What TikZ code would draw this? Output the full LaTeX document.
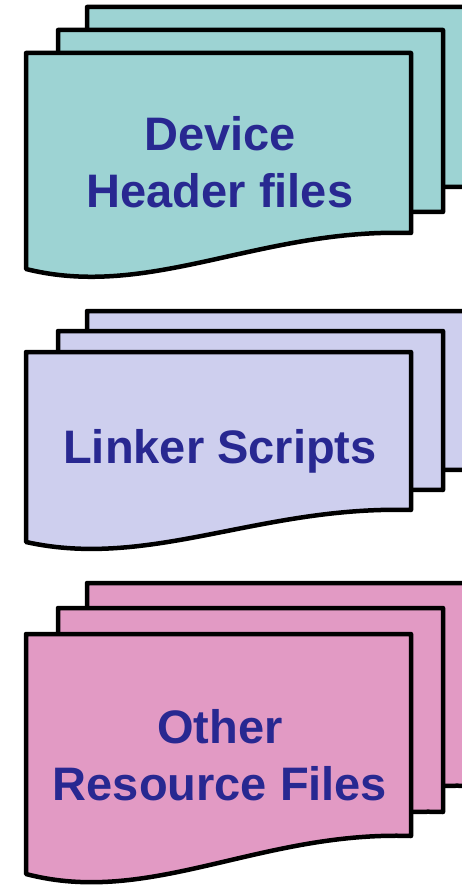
\documentclass[tikz,border=0pt]{standalone}
\usepackage{fontspec}
\setmainfont{Liberation Sans}
\definecolor{tealfill}{RGB}{157,211,211}
\definecolor{lavfill}{RGB}{206,207,238}
\definecolor{pinkfill}{RGB}{226,154,196}
\definecolor{txtblue}{RGB}{40,40,145}
\tikzset{
  sheet/.style={draw=black, line width=4.5pt, line join=round},
  label/.style={text=txtblue, font=\bfseries\fontsize{47}{57}\selectfont, align=center, inner sep=0pt}
}
% #1 left, #2 top, #3 right-bottom y, #4 wave depth, #5 fill
\newcommand{\docsheet}[5]{%
  \path[sheet, fill=#5] (#1,#2) -- ({#1+385},#2) -- ({#1+385},#3)
    .. controls ({#1+234},{#3-#4*5/36}) and ({#1+124},{#3+#4*67/36}) .. (#1,{#3+#4}) -- cycle;}
\begin{document}
\begin{tikzpicture}[x=1pt,y=-1pt]
\useasboundingbox (0,0) rectangle (462,885);
\clip (0,0) rectangle (462,885);
% group 1
\docsheet{87}{7}{187}{36}{tealfill}
\docsheet{58}{30}{212}{36}{tealfill}
\docsheet{26}{53}{233}{36}{tealfill}
\node[label] (dev) at (220,162) {Device\\Header files};
% group 2
\docsheet{87}{311}{470}{32}{lavfill}
\docsheet{58}{331}{490}{32}{lavfill}
\docsheet{26}{352}{510}{32}{lavfill}
\node[label, anchor=base] (link) at (220,463) {Linker Scripts};
% group 3
\docsheet{87}{583}{786}{38}{pinkfill}
\docsheet{58}{608}{812}{38}{pinkfill}
\docsheet{26}{634}{836}{38}{pinkfill}
\node[label] (other) at (220,755) {Other\\Resource Files};
\end{tikzpicture}
\end{document}
